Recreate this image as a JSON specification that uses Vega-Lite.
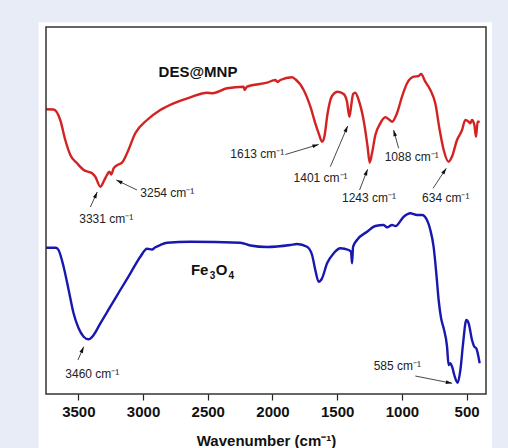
{
  "$schema": "https://vega.github.io/schema/vega-lite/v6.json",
  "width": 440,
  "height": 367,
  "autosize": {"type": "none"},
  "padding": {"left": 46, "top": 27, "right": 22, "bottom": 54},
  "background": "#e8ecf7",
  "config": {"view": {"stroke": null}, "font": "Liberation Sans"},
  "datasets": {
    "spectra": [
      {"wn": 3750, "t": 284.7, "sample": "DES@MNP"},
      {"wn": 3691, "t": 284.5, "sample": "DES@MNP"},
      {"wn": 3640, "t": 274, "sample": "DES@MNP"},
      {"wn": 3601, "t": 254, "sample": "DES@MNP"},
      {"wn": 3562, "t": 239, "sample": "DES@MNP"},
      {"wn": 3510, "t": 230.7, "sample": "DES@MNP"},
      {"wn": 3459, "t": 224, "sample": "DES@MNP"},
      {"wn": 3394, "t": 220.7, "sample": "DES@MNP"},
      {"wn": 3369, "t": 217.3, "sample": "DES@MNP"},
      {"wn": 3330, "t": 207.3, "sample": "DES@MNP"},
      {"wn": 3299, "t": 214, "sample": "DES@MNP"},
      {"wn": 3279, "t": 219, "sample": "DES@MNP"},
      {"wn": 3261, "t": 222.3, "sample": "DES@MNP"},
      {"wn": 3245, "t": 219.5, "sample": "DES@MNP"},
      {"wn": 3228, "t": 225.7, "sample": "DES@MNP"},
      {"wn": 3197, "t": 229, "sample": "DES@MNP"},
      {"wn": 3163, "t": 231.3, "sample": "DES@MNP"},
      {"wn": 3124, "t": 240.7, "sample": "DES@MNP"},
      {"wn": 3060, "t": 260.7, "sample": "DES@MNP"},
      {"wn": 2969, "t": 274, "sample": "DES@MNP"},
      {"wn": 2867, "t": 284, "sample": "DES@MNP"},
      {"wn": 2764, "t": 290.7, "sample": "DES@MNP"},
      {"wn": 2635, "t": 296.7, "sample": "DES@MNP"},
      {"wn": 2506, "t": 301.3, "sample": "DES@MNP"},
      {"wn": 2463, "t": 300.7, "sample": "DES@MNP"},
      {"wn": 2351, "t": 305.7, "sample": "DES@MNP"},
      {"wn": 2223, "t": 307.3, "sample": "DES@MNP"},
      {"wn": 2215, "t": 304, "sample": "DES@MNP"},
      {"wn": 2197, "t": 307.3, "sample": "DES@MNP"},
      {"wn": 2042, "t": 311.3, "sample": "DES@MNP"},
      {"wn": 1978, "t": 314, "sample": "DES@MNP"},
      {"wn": 1960, "t": 312, "sample": "DES@MNP"},
      {"wn": 1939, "t": 314, "sample": "DES@MNP"},
      {"wn": 1849, "t": 316.7, "sample": "DES@MNP"},
      {"wn": 1823, "t": 314.7, "sample": "DES@MNP"},
      {"wn": 1759, "t": 304, "sample": "DES@MNP"},
      {"wn": 1707, "t": 287.3, "sample": "DES@MNP"},
      {"wn": 1669, "t": 270.7, "sample": "DES@MNP"},
      {"wn": 1643, "t": 260.7, "sample": "DES@MNP"},
      {"wn": 1617, "t": 252.3, "sample": "DES@MNP"},
      {"wn": 1599, "t": 257.3, "sample": "DES@MNP"},
      {"wn": 1574, "t": 280.7, "sample": "DES@MNP"},
      {"wn": 1540, "t": 298, "sample": "DES@MNP"},
      {"wn": 1496, "t": 302.3, "sample": "DES@MNP"},
      {"wn": 1450, "t": 300, "sample": "DES@MNP"},
      {"wn": 1424, "t": 292.3, "sample": "DES@MNP"},
      {"wn": 1406, "t": 277.3, "sample": "DES@MNP"},
      {"wn": 1391, "t": 289, "sample": "DES@MNP"},
      {"wn": 1377, "t": 300, "sample": "DES@MNP"},
      {"wn": 1360, "t": 301.3, "sample": "DES@MNP"},
      {"wn": 1334, "t": 294, "sample": "DES@MNP"},
      {"wn": 1296, "t": 274, "sample": "DES@MNP"},
      {"wn": 1265, "t": 247.3, "sample": "DES@MNP"},
      {"wn": 1249, "t": 231.3, "sample": "DES@MNP"},
      {"wn": 1231, "t": 240.7, "sample": "DES@MNP"},
      {"wn": 1205, "t": 259, "sample": "DES@MNP"},
      {"wn": 1167, "t": 270.7, "sample": "DES@MNP"},
      {"wn": 1128, "t": 276.7, "sample": "DES@MNP"},
      {"wn": 1095, "t": 274, "sample": "DES@MNP"},
      {"wn": 1076, "t": 272.3, "sample": "DES@MNP"},
      {"wn": 1038, "t": 280.7, "sample": "DES@MNP"},
      {"wn": 999, "t": 297.3, "sample": "DES@MNP"},
      {"wn": 960, "t": 310.7, "sample": "DES@MNP"},
      {"wn": 909, "t": 317.3, "sample": "DES@MNP"},
      {"wn": 871, "t": 318, "sample": "DES@MNP"},
      {"wn": 852, "t": 320, "sample": "DES@MNP"},
      {"wn": 819, "t": 312.3, "sample": "DES@MNP"},
      {"wn": 780, "t": 304, "sample": "DES@MNP"},
      {"wn": 742, "t": 290.7, "sample": "DES@MNP"},
      {"wn": 708, "t": 264, "sample": "DES@MNP"},
      {"wn": 677, "t": 244, "sample": "DES@MNP"},
      {"wn": 639, "t": 232.3, "sample": "DES@MNP"},
      {"wn": 613, "t": 237.3, "sample": "DES@MNP"},
      {"wn": 574, "t": 254, "sample": "DES@MNP"},
      {"wn": 535, "t": 264, "sample": "DES@MNP"},
      {"wn": 510, "t": 274, "sample": "DES@MNP"},
      {"wn": 484, "t": 272.3, "sample": "DES@MNP"},
      {"wn": 471, "t": 270.7, "sample": "DES@MNP"},
      {"wn": 458, "t": 274, "sample": "DES@MNP"},
      {"wn": 440, "t": 269, "sample": "DES@MNP"},
      {"wn": 427, "t": 257.3, "sample": "DES@MNP"},
      {"wn": 415, "t": 272.3, "sample": "DES@MNP"},
      {"wn": 399, "t": 272.3, "sample": "DES@MNP"},
      {"wn": 3750, "t": 146.3, "sample": "Fe3O4"},
      {"wn": 3673, "t": 146.3, "sample": "Fe3O4"},
      {"wn": 3653, "t": 144, "sample": "Fe3O4"},
      {"wn": 3614, "t": 127.3, "sample": "Fe3O4"},
      {"wn": 3575, "t": 104, "sample": "Fe3O4"},
      {"wn": 3537, "t": 80.7, "sample": "Fe3O4"},
      {"wn": 3498, "t": 65.7, "sample": "Fe3O4"},
      {"wn": 3459, "t": 57.3, "sample": "Fe3O4"},
      {"wn": 3421, "t": 54.7, "sample": "Fe3O4"},
      {"wn": 3382, "t": 59, "sample": "Fe3O4"},
      {"wn": 3330, "t": 70.7, "sample": "Fe3O4"},
      {"wn": 3253, "t": 87.3, "sample": "Fe3O4"},
      {"wn": 3176, "t": 104, "sample": "Fe3O4"},
      {"wn": 3098, "t": 120.7, "sample": "Fe3O4"},
      {"wn": 3021, "t": 137.3, "sample": "Fe3O4"},
      {"wn": 2969, "t": 145.2, "sample": "Fe3O4"},
      {"wn": 2931, "t": 144.5, "sample": "Fe3O4"},
      {"wn": 2905, "t": 146.7, "sample": "Fe3O4"},
      {"wn": 2867, "t": 149, "sample": "Fe3O4"},
      {"wn": 2815, "t": 151.3, "sample": "Fe3O4"},
      {"wn": 2635, "t": 152.3, "sample": "Fe3O4"},
      {"wn": 2248, "t": 151.3, "sample": "Fe3O4"},
      {"wn": 2171, "t": 148.5, "sample": "Fe3O4"},
      {"wn": 2042, "t": 147, "sample": "Fe3O4"},
      {"wn": 1862, "t": 149, "sample": "Fe3O4"},
      {"wn": 1810, "t": 150, "sample": "Fe3O4"},
      {"wn": 1733, "t": 147.3, "sample": "Fe3O4"},
      {"wn": 1694, "t": 139, "sample": "Fe3O4"},
      {"wn": 1669, "t": 124, "sample": "Fe3O4"},
      {"wn": 1643, "t": 112.3, "sample": "Fe3O4"},
      {"wn": 1617, "t": 115.7, "sample": "Fe3O4"},
      {"wn": 1578, "t": 130.7, "sample": "Fe3O4"},
      {"wn": 1527, "t": 140.7, "sample": "Fe3O4"},
      {"wn": 1476, "t": 145.7, "sample": "Fe3O4"},
      {"wn": 1411, "t": 144, "sample": "Fe3O4"},
      {"wn": 1393, "t": 142.3, "sample": "Fe3O4"},
      {"wn": 1385, "t": 130.7, "sample": "Fe3O4"},
      {"wn": 1377, "t": 147.3, "sample": "Fe3O4"},
      {"wn": 1347, "t": 154, "sample": "Fe3O4"},
      {"wn": 1269, "t": 162.3, "sample": "Fe3O4"},
      {"wn": 1205, "t": 168, "sample": "Fe3O4"},
      {"wn": 1141, "t": 169, "sample": "Fe3O4"},
      {"wn": 1115, "t": 166.7, "sample": "Fe3O4"},
      {"wn": 1076, "t": 169, "sample": "Fe3O4"},
      {"wn": 1050, "t": 168, "sample": "Fe3O4"},
      {"wn": 986, "t": 177.3, "sample": "Fe3O4"},
      {"wn": 935, "t": 180.7, "sample": "Fe3O4"},
      {"wn": 883, "t": 179, "sample": "Fe3O4"},
      {"wn": 844, "t": 179, "sample": "Fe3O4"},
      {"wn": 806, "t": 174, "sample": "Fe3O4"},
      {"wn": 780, "t": 164, "sample": "Fe3O4"},
      {"wn": 755, "t": 147.3, "sample": "Fe3O4"},
      {"wn": 734, "t": 120.7, "sample": "Fe3O4"},
      {"wn": 716, "t": 94, "sample": "Fe3O4"},
      {"wn": 697, "t": 75.7, "sample": "Fe3O4"},
      {"wn": 677, "t": 65.7, "sample": "Fe3O4"},
      {"wn": 651, "t": 47.3, "sample": "Fe3O4"},
      {"wn": 639, "t": 29, "sample": "Fe3O4"},
      {"wn": 625, "t": 30.7, "sample": "Fe3O4"},
      {"wn": 612, "t": 27.3, "sample": "Fe3O4"},
      {"wn": 595, "t": 19, "sample": "Fe3O4"},
      {"wn": 569, "t": 11.3, "sample": "Fe3O4"},
      {"wn": 548, "t": 24, "sample": "Fe3O4"},
      {"wn": 527, "t": 50.7, "sample": "Fe3O4"},
      {"wn": 502, "t": 74, "sample": "Fe3O4"},
      {"wn": 484, "t": 70.7, "sample": "Fe3O4"},
      {"wn": 458, "t": 54, "sample": "Fe3O4"},
      {"wn": 440, "t": 47.3, "sample": "Fe3O4"},
      {"wn": 425, "t": 45.7, "sample": "Fe3O4"},
      {"wn": 399, "t": 30.7, "sample": "Fe3O4"}
    ],
    "peaks": [
      {"wn": 3493, "t": 174.7, "label": "3331 cm⁻¹"},
      {"wn": 3021, "t": 201.3, "label": "3254 cm⁻¹"},
      {"wn": 2326, "t": 240, "label": "1613 cm⁻¹"},
      {"wn": 1837, "t": 215.7, "label": "1401 cm⁻¹"},
      {"wn": 1463, "t": 195.7, "label": "1243 cm⁻¹"},
      {"wn": 1133, "t": 237.3, "label": "1088 cm⁻¹"},
      {"wn": 844, "t": 195.7, "label": "634 cm⁻¹"},
      {"wn": 3601, "t": 20, "label": "3460 cm⁻¹"},
      {"wn": 1218, "t": 28.3, "label": "585 cm⁻¹"}
    ],
    "names": [
      {"wn": 2880, "t": 322.3, "label": "DES@MNP"},
      {"wn": 2630, "t": 124, "label": "Fe"},
      {"wn": 2438, "t": 124, "label": "O"}
    ],
    "subs": [
      {"wn": 2484, "t": 118, "label": "3"},
      {"wn": 2340, "t": 118, "label": "4"}
    ],
    "arrows": [
      {"wn": 3407, "t": 187, "wn2": 3354, "t2": 202},
      {"wn": 3047, "t": 204, "wn2": 3207, "t2": 214},
      {"wn": 1900, "t": 239.5, "wn2": 1643, "t2": 249.5},
      {"wn": 1553, "t": 227.3, "wn2": 1419, "t2": 268},
      {"wn": 1327, "t": 204, "wn2": 1265, "t2": 224.7},
      {"wn": 1025, "t": 245.7, "wn2": 1064, "t2": 264},
      {"wn": 759, "t": 205.7, "wn2": 657, "t2": 225.7},
      {"wn": 3503, "t": 34, "wn2": 3459, "t2": 47.3},
      {"wn": 896, "t": 18, "wn2": 612, "t2": 10.7}
    ]
  },
  "layer": [
    {
      "data": {"values": [{"wn": 3807, "wn2": 303, "t": 371.7, "t2": -60}]},
      "mark": {"type": "rect", "fill": "white"},
      "encoding": {
        "x": {
          "field": "wn", "type": "quantitative",
          "scale": {"domain": [350, 3750], "reverse": true, "nice": false, "zero": false},
          "axis": {
            "orient": "bottom",
            "values": [500, 750, 1000, 1250, 1500, 1750, 2000, 2250, 2500, 2750, 3000, 3250, 3500],
            "labelExpr": "datum.value % 500 === 0 ? datum.label : ''",
            "format": "d",
            "tickSize": {"condition": {"test": "datum.value % 500 === 0", "value": 6}, "value": 3},
            "tickColor": "#222",
            "tickWidth": 1.2,
            "domain": false,
            "grid": false,
            "labelFont": "Liberation Sans",
            "labelFontSize": 15,
            "labelFontWeight": "bold",
            "labelColor": "#111",
            "labelPadding": 4,
            "labelOverlap": false,
            "labelFlush": false,
            "title": "Wavenumber (cm⁻¹)",
            "titleFont": "Liberation Sans",
            "titleFontSize": 15,
            "titleFontWeight": "bold",
            "titleColor": "#111",
            "titlePadding": 14,
            "zindex": 1
          }
        },
        "x2": {"field": "wn2"},
        "y": {"field": "t", "type": "quantitative", "scale": {"domain": [0, 367], "nice": false, "zero": false}, "axis": null},
        "y2": {"field": "t2"}
      }
    },
    {
      "data": {"name": "spectra"},
      "mark": {"type": "line", "strokeWidth": 2.4, "strokeJoin": "round", "interpolate": "monotone"},
      "encoding": {
        "x": {"field": "wn", "type": "quantitative"},
        "y": {"field": "t", "type": "quantitative"},
        "color": {"field": "sample", "type": "nominal", "scale": {"domain": ["DES@MNP", "Fe3O4"], "range": ["#d42222", "#1818b0"]}, "legend": null}
      }
    },
    {
      "data": {"values": [{"wn": 3750, "wn2": 350, "t": 367, "t2": 0}]},
      "mark": {"type": "rect", "filled": false, "fill": null, "stroke": "#333", "strokeWidth": 1.5},
      "encoding": {
        "x": {"field": "wn", "type": "quantitative"},
        "x2": {"field": "wn2"},
        "y": {"field": "t", "type": "quantitative"},
        "y2": {"field": "t2"}
      }
    },
    {
      "data": {"name": "arrows"},
      "mark": {"type": "rule", "stroke": "#333", "strokeWidth": 0.9},
      "encoding": {
        "x": {"field": "wn", "type": "quantitative"},
        "x2": {"field": "wn2"},
        "y": {"field": "t", "type": "quantitative"},
        "y2": {"field": "t2"}
      }
    },
    {
      "data": {"name": "arrows"},
      "transform": [
        {"calculate": "atan2(-(datum.wn2 - datum.wn) * 0.12941, datum.t2 - datum.t) * 180 / PI", "as": "angle"}
      ],
      "mark": {"type": "point", "shape": "M0,0L0.45,1.5L-0.45,1.5Z", "filled": true, "opacity": 1, "color": "#111", "size": 70, "strokeWidth": 0},
      "encoding": {
        "x": {"field": "wn2", "type": "quantitative"},
        "y": {"field": "t2", "type": "quantitative"},
        "angle": {"field": "angle", "type": "quantitative", "scale": null}
      }
    },
    {
      "data": {"name": "peaks"},
      "mark": {"type": "text", "align": "left", "baseline": "middle", "font": "Liberation Sans", "fontSize": 12, "color": "#222"},
      "encoding": {
        "x": {"field": "wn", "type": "quantitative"},
        "y": {"field": "t", "type": "quantitative"},
        "text": {"field": "label"}
      }
    },
    {
      "data": {"name": "names"},
      "mark": {"type": "text", "align": "left", "baseline": "middle", "font": "Liberation Sans", "fontSize": 15, "fontWeight": "bold", "color": "#111"},
      "encoding": {
        "x": {"field": "wn", "type": "quantitative"},
        "y": {"field": "t", "type": "quantitative"},
        "text": {"field": "label"}
      }
    },
    {
      "data": {"name": "subs"},
      "mark": {"type": "text", "align": "left", "baseline": "middle", "font": "Liberation Sans", "fontSize": 10, "fontWeight": "bold", "color": "#111"},
      "encoding": {
        "x": {"field": "wn", "type": "quantitative"},
        "y": {"field": "t", "type": "quantitative"},
        "text": {"field": "label"}
      }
    }
  ]
}
